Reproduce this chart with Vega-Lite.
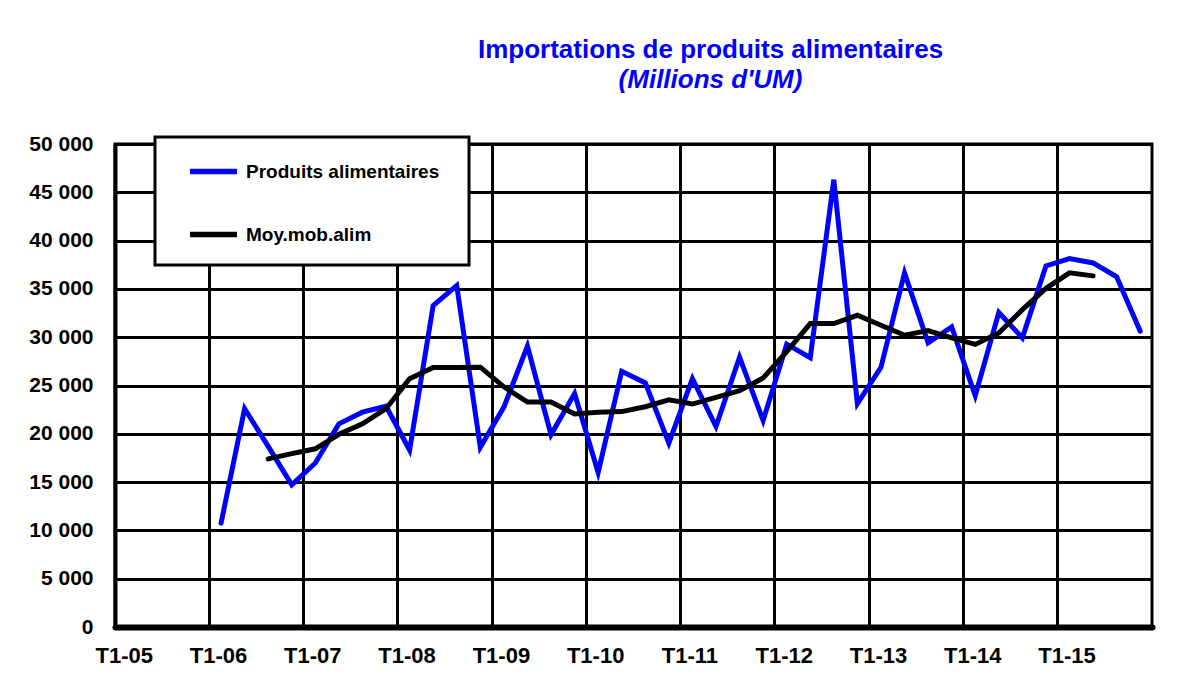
{
  "$schema": "https://vega.github.io/schema/vega-lite/v6.json",
  "autosize": {"type": "none"},
  "padding": {"left": 115, "top": 144, "right": 35, "bottom": 70},
  "width": 1037,
  "height": 483,
  "background": "white",
  "config": {
    "font": "Liberation Sans",
    "view": {"stroke": "black", "strokeWidth": 3}
  },
  "title": {
    "text": "Importations de produits alimentaires",
    "subtitle": "(Millions d'UM)",
    "anchor": "middle",
    "frame": "group",
    "dx": 77,
    "offset": 40,
    "font": "Liberation Sans",
    "fontSize": 26,
    "fontWeight": "bold",
    "color": "#0000FF",
    "subtitleFont": "Liberation Sans",
    "subtitleFontSize": 26,
    "subtitleFontWeight": "bold",
    "subtitleFontStyle": "italic",
    "subtitleColor": "#0000FF",
    "subtitlePadding": 4
  },
  "data": {
    "values": [
      {"periode": "T1-06", "serie": "Produits alimentaires", "valeur": 10750},
      {"periode": "T2-06", "serie": "Produits alimentaires", "valeur": 22600},
      {"periode": "T3-06", "serie": "Produits alimentaires", "valeur": 18700},
      {"periode": "T4-06", "serie": "Produits alimentaires", "valeur": 14720},
      {"periode": "T1-07", "serie": "Produits alimentaires", "valeur": 16980},
      {"periode": "T2-07", "serie": "Produits alimentaires", "valeur": 21030},
      {"periode": "T3-07", "serie": "Produits alimentaires", "valeur": 22240},
      {"periode": "T4-07", "serie": "Produits alimentaires", "valeur": 22850},
      {"periode": "T1-08", "serie": "Produits alimentaires", "valeur": 18320},
      {"periode": "T2-08", "serie": "Produits alimentaires", "valeur": 33270},
      {"periode": "T3-08", "serie": "Produits alimentaires", "valeur": 35340},
      {"periode": "T4-08", "serie": "Produits alimentaires", "valeur": 18600},
      {"periode": "T1-09", "serie": "Produits alimentaires", "valeur": 22760},
      {"periode": "T2-09", "serie": "Produits alimentaires", "valeur": 29070},
      {"periode": "T3-09", "serie": "Produits alimentaires", "valeur": 19900},
      {"periode": "T4-09", "serie": "Produits alimentaires", "valeur": 24170},
      {"periode": "T1-10", "serie": "Produits alimentaires", "valeur": 16000},
      {"periode": "T2-10", "serie": "Produits alimentaires", "valeur": 26470},
      {"periode": "T3-10", "serie": "Produits alimentaires", "valeur": 25270},
      {"periode": "T4-10", "serie": "Produits alimentaires", "valeur": 19040},
      {"periode": "T1-11", "serie": "Produits alimentaires", "valeur": 25720},
      {"periode": "T2-11", "serie": "Produits alimentaires", "valeur": 20750},
      {"periode": "T3-11", "serie": "Produits alimentaires", "valeur": 27940},
      {"periode": "T4-11", "serie": "Produits alimentaires", "valeur": 21370},
      {"periode": "T1-12", "serie": "Produits alimentaires", "valeur": 29280},
      {"periode": "T2-12", "serie": "Produits alimentaires", "valeur": 27870},
      {"periode": "T3-12", "serie": "Produits alimentaires", "valeur": 46310},
      {"periode": "T4-12", "serie": "Produits alimentaires", "valeur": 23120},
      {"periode": "T1-13", "serie": "Produits alimentaires", "valeur": 26890},
      {"periode": "T2-13", "serie": "Produits alimentaires", "valeur": 36660},
      {"periode": "T3-13", "serie": "Produits alimentaires", "valeur": 29410},
      {"periode": "T4-13", "serie": "Produits alimentaires", "valeur": 31060},
      {"periode": "T1-14", "serie": "Produits alimentaires", "valeur": 23940},
      {"periode": "T2-14", "serie": "Produits alimentaires", "valeur": 32560},
      {"periode": "T3-14", "serie": "Produits alimentaires", "valeur": 29930},
      {"periode": "T4-14", "serie": "Produits alimentaires", "valeur": 37380},
      {"periode": "T1-15", "serie": "Produits alimentaires", "valeur": 38130},
      {"periode": "T2-15", "serie": "Produits alimentaires", "valeur": 37690},
      {"periode": "T3-15", "serie": "Produits alimentaires", "valeur": 36260},
      {"periode": "T4-15", "serie": "Produits alimentaires", "valeur": 30620},
      {"periode": "T3-06", "serie": "Moy.mob.alim", "valeur": 17400},
      {"periode": "T4-06", "serie": "Moy.mob.alim", "valeur": 17950},
      {"periode": "T1-07", "serie": "Moy.mob.alim", "valeur": 18450},
      {"periode": "T2-07", "serie": "Moy.mob.alim", "valeur": 19950},
      {"periode": "T3-07", "serie": "Moy.mob.alim", "valeur": 21030},
      {"periode": "T4-07", "serie": "Moy.mob.alim", "valeur": 22600},
      {"periode": "T1-08", "serie": "Moy.mob.alim", "valeur": 25700},
      {"periode": "T2-08", "serie": "Moy.mob.alim", "valeur": 26870},
      {"periode": "T3-08", "serie": "Moy.mob.alim", "valeur": 26870},
      {"periode": "T4-08", "serie": "Moy.mob.alim", "valeur": 26900},
      {"periode": "T1-09", "serie": "Moy.mob.alim", "valeur": 24860},
      {"periode": "T2-09", "serie": "Moy.mob.alim", "valeur": 23280},
      {"periode": "T3-09", "serie": "Moy.mob.alim", "valeur": 23280},
      {"periode": "T4-09", "serie": "Moy.mob.alim", "valeur": 22060},
      {"periode": "T1-10", "serie": "Moy.mob.alim", "valeur": 22220},
      {"periode": "T2-10", "serie": "Moy.mob.alim", "valeur": 22300},
      {"periode": "T3-10", "serie": "Moy.mob.alim", "valeur": 22800},
      {"periode": "T4-10", "serie": "Moy.mob.alim", "valeur": 23520},
      {"periode": "T1-11", "serie": "Moy.mob.alim", "valeur": 23080},
      {"periode": "T2-11", "serie": "Moy.mob.alim", "valeur": 23770},
      {"periode": "T3-11", "serie": "Moy.mob.alim", "valeur": 24460},
      {"periode": "T4-11", "serie": "Moy.mob.alim", "valeur": 25770},
      {"periode": "T1-12", "serie": "Moy.mob.alim", "valeur": 28500},
      {"periode": "T2-12", "serie": "Moy.mob.alim", "valeur": 31410},
      {"periode": "T3-12", "serie": "Moy.mob.alim", "valeur": 31410},
      {"periode": "T4-12", "serie": "Moy.mob.alim", "valeur": 32270},
      {"periode": "T1-13", "serie": "Moy.mob.alim", "valeur": 31240},
      {"periode": "T2-13", "serie": "Moy.mob.alim", "valeur": 30200},
      {"periode": "T3-13", "serie": "Moy.mob.alim", "valeur": 30690},
      {"periode": "T4-13", "serie": "Moy.mob.alim", "valeur": 29930},
      {"periode": "T1-14", "serie": "Moy.mob.alim", "valeur": 29250},
      {"periode": "T2-14", "serie": "Moy.mob.alim", "valeur": 30440},
      {"periode": "T3-14", "serie": "Moy.mob.alim", "valeur": 32850},
      {"periode": "T4-14", "serie": "Moy.mob.alim", "valeur": 35060},
      {"periode": "T1-15", "serie": "Moy.mob.alim", "valeur": 36660},
      {"periode": "T2-15", "serie": "Moy.mob.alim", "valeur": 36350}
    ]
  },
  "mark": {"type": "line", "strokeWidth": 5, "strokeCap": "round"},
  "encoding": {
    "x": {
      "field": "periode",
      "type": "ordinal",
      "bandPosition": 0.5,
      "scale": {
        "type": "band",
        "paddingInner": 0,
        "paddingOuter": 0,
        "domain": ["T1-05","T2-05","T3-05","T4-05","T1-06","T2-06","T3-06","T4-06","T1-07","T2-07","T3-07","T4-07","T1-08","T2-08","T3-08","T4-08","T1-09","T2-09","T3-09","T4-09","T1-10","T2-10","T3-10","T4-10","T1-11","T2-11","T3-11","T4-11","T1-12","T2-12","T3-12","T4-12","T1-13","T2-13","T3-13","T4-13","T1-14","T2-14","T3-14","T4-14","T1-15","T2-15","T3-15","T4-15"]
      },
      "axis": {
        "title": null,
        "values": ["T1-05","T1-06","T1-07","T1-08","T1-09","T1-10","T1-11","T1-12","T1-13","T1-14","T1-15"],
        "bandPosition": 0,
        "labelOffset": -2.5,
        "labelAngle": 0,
        "labelAlign": "center",
        "labelFont": "Liberation Sans",
        "labelFontSize": 22,
        "labelFontWeight": "bold",
        "labelColor": "black",
        "labelPadding": 18,
        "ticks": false,
        "grid": true,
        "gridColor": "black",
        "gridWidth": 3,
        "gridOpacity": 1,
        "domainColor": "black",
        "domainWidth": 6,
        "domainCap": "round"
      }
    },
    "y": {
      "field": "valeur",
      "type": "quantitative",
      "scale": {"domain": [0, 50000], "nice": false, "zero": true},
      "axis": {
        "title": null,
        "values": [0, 5000, 10000, 15000, 20000, 25000, 30000, 35000, 40000, 45000, 50000],
        "labelExpr": "replace(format(datum.value, ','), ',', ' ')",
        "labelFont": "Liberation Sans",
        "labelFontSize": 21,
        "labelFontWeight": "bold",
        "labelColor": "black",
        "labelPadding": 22,
        "ticks": false,
        "grid": true,
        "gridColor": "black",
        "gridWidth": 3,
        "gridOpacity": 1,
        "domainColor": "black",
        "domainWidth": 4
      }
    },
    "color": {
      "field": "serie",
      "type": "nominal",
      "sort": ["Produits alimentaires", "Moy.mob.alim"],
      "scale": {"domain": ["Produits alimentaires", "Moy.mob.alim"], "range": ["#0000FF", "#000000"]},
      "legend": {
        "title": "\u00a0",
        "titleOrient": "bottom",
        "titleFontSize": 12,
        "titlePadding": 0,
        "orient": "none",
        "legendX": 40,
        "legendY": -7,
        "symbolType": "stroke",
        "symbolSize": 2209,
        "symbolStrokeWidth": 5.5,
        "symbolOffset": 24,
        "padding": 8,
        "rowPadding": 25,
        "labelOffset": 6,
        "labelFont": "Liberation Sans",
        "labelFontSize": 19,
        "labelFontWeight": "bold",
        "labelColor": "black",
        "labelLimit": 1000,
        "labelExpr": "datum.label == 'Produits alimentaires' ? datum.label + '\u00a0\u00a0\u00a0\u00a0\u200b' : datum.label",
        "fillColor": "white",
        "strokeColor": "black",
        "encode": {"legend": {"update": {"strokeWidth": {"value": 3}}}}
      }
    }
  }
}
